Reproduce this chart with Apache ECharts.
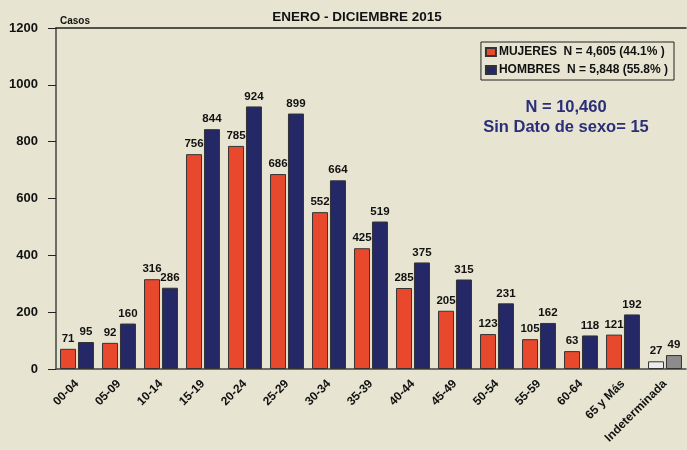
<!DOCTYPE html>
<html>
<head>
<meta charset="utf-8">
<script src="https://cdn.jsdelivr.net/npm/echarts@6/dist/echarts.min.js"></script>
<style>
  html, body { margin: 0; padding: 0; background: #E7E5D1; }
  #main { width: 687px; height: 450px; }
</style>
</head>
<body>
<div id="main"></div>
<script>
// grupos de edad
var grupos = ['00-04', '05-09', '10-14', '15-19', '20-24', '25-29', '30-34', '35-39',
  '40-44', '45-49', '50-54', '55-59', '60-64', '65 y Más', 'Indeterminada']
var mujeres = [71, 92, 316, 756, 785, 686, 552, 425, 285, 205, 123, 105, 63, 121, 27]
var hombres = [95, 160, 286, 844, 924, 899, 664, 519, 375, 315, 231, 162, 118, 192, 49]
var yTicks = [0, 200, 400, 600, 800, 1000, 1200]

var ROJO = '#E8492D', AZUL = '#252866', BORDE = '#333333'
var fuente = '"Liberation Sans", Arial, sans-serif'

// la ultima categoria (Indeterminada) va en grises
function serieData(vals, colorUlt) {
  return vals.map(function (v, i) {
    if (i === vals.length - 1) return { value: v, itemStyle: { color: colorUlt } }
    return v
  })
}

var myChart = echarts.init(document.getElementById('main'))
var option = {
  backgroundColor: '#E7E5D1',
  animation: false,
  textStyle: { fontFamily: fuente },
  title: [{
    text: 'ENERO - DICIEMBRE 2015',
    left: 352, top: 5, textAlign: 'center',
    textStyle: { fontSize: 13.5, fontWeight: 'bold', color: '#111', fontFamily: fuente }
  }, {
    text: 'Casos',
    left: 55, top: 11,
    textStyle: { fontSize: 10, fontWeight: 'bold', color: '#111', fontFamily: fuente }
  }, {
    text: 'N = 10,460\nSin Dato de sexo= 15',
    left: 561, top: 92, textAlign: 'center',
    textStyle: { fontSize: 16.5, fontWeight: 'bold', color: '#2B2E78', lineHeight: 20, fontFamily: fuente }
  }],
  legend: {
    orient: 'vertical',
    right: 13, top: 42,
    icon: 'rect',
    itemWidth: 10, itemHeight: 8, itemGap: 6,
    padding: [4, 6, 4, 4],
    borderColor: '#222', borderWidth: 1,
    data: ['MUJERES', 'HOMBRES'],
    formatter: function (name) {
      return name === 'MUJERES' ? 'MUJERES  N = 4,605 (44.1% )' : 'HOMBRES  N = 5,848 (55.8% )'
    },
    textStyle: { fontSize: 12, fontWeight: 'bold', color: '#111', padding: [0, 0, 0, -2] }
  },
  grid: { left: 56, right: 1, top: 28, bottom: 81, containLabel: false },
  xAxis: [{
    type: 'category',
    data: grupos,
    axisLine: { lineStyle: { color: '#444', width: 1.5 } },
    axisTick: { alignWithLabel: true, length: 9, lineStyle: { color: '#222' } },
    axisLabel: { rotate: 45, fontSize: 12, fontWeight: 'bold', color: '#111', margin: 13, interval: 0 }
  }, {
    type: 'category',
    position: 'top',
    data: grupos,
    axisLine: { show: true, lineStyle: { color: '#222', width: 1.5 } },
    axisTick: { show: false },
    axisLabel: { show: false }
  }],
  yAxis: {
    type: 'value',
    min: 0, max: 1200, interval: 200,
    splitLine: { show: false },
    axisLine: { show: true, lineStyle: { color: '#444', width: 1.5 } },
    axisTick: { show: true, length: 8, lineStyle: { color: '#222' } },
    axisLabel: {
      fontSize: 13, fontWeight: 'bold', color: '#111', margin: 18,
      formatter: function (v) { return yTicks.indexOf(v) >= 0 ? String(v) : '' }
    }
  },
  series: [{
    name: 'MUJERES',
    type: 'bar',
    data: serieData(mujeres, '#ECECEC'),
    barWidth: 16,
    barGap: '12%',
    itemStyle: { color: ROJO, borderColor: BORDE, borderWidth: 1 },
    label: { show: true, position: 'top', distance: 4, fontSize: 11.5, fontWeight: 'bold', color: '#111' }
  }, {
    name: 'HOMBRES',
    type: 'bar',
    data: serieData(hombres, '#8C8C8C'),
    barWidth: 16,
    itemStyle: { color: AZUL, borderColor: BORDE, borderWidth: 1 },
    label: { show: true, position: 'top', distance: 4, fontSize: 11.5, fontWeight: 'bold', color: '#111' }
  }]
}
myChart.setOption(option)
</script>
</body>
</html>
